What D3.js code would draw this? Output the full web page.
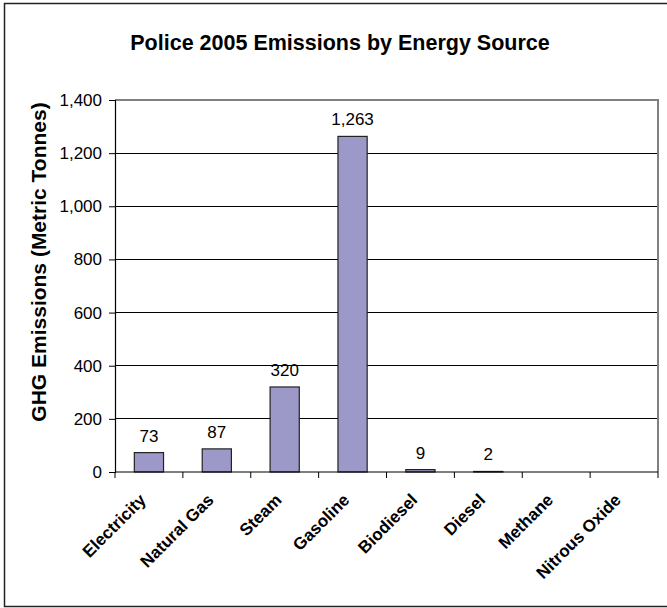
<!DOCTYPE html>
<html>
<head>
<meta charset="utf-8">
<script src="https://cdn.jsdelivr.net/npm/d3@7"></script>
<style>
  body { margin: 0; background: #fff; }
  svg { display: block; font-family: Arial, "Liberation Sans", sans-serif; }
</style>
</head>
<body>
<svg id="chart" width="667" height="608"></svg>
<script>
// Energy sources and their 2005 emissions (metric tonnes)
const categories = ["Electricity", "Natural Gas", "Steam", "Gasoline", "Biodiesel", "Diesel", "Methane", "Nitrous Oxide"];
const emissions = [73, 87, 320, 1263, 9, 2, 0, 0];
const valueLabels = ["73", "87", "320", "1,263", "9", "2", "", ""];
const yTicks = [0, 200, 400, 600, 800, 1000, 1200, 1400];

const svg = d3.select("#chart");
const plot = { left: 115, right: 658, top: 100, bottom: 472 };
const FONT = "Arial, 'Liberation Sans', sans-serif";

// outer chart frame (runs past the right edge)
svg.append("rect")
  .attr("x", 4.5).attr("y", 3.5)
  .attr("width", 700).attr("height", 603)
  .attr("fill", "#fff").attr("stroke", "#222").attr("stroke-width", 1.5);

svg.append("text")
  .attr("x", 340).attr("y", 50)
  .attr("text-anchor", "middle")
  .attr("font-size", 21.5).attr("font-weight", "bold")
  .text("Police 2005 Emissions by Energy Source");

const x = d3.scaleBand()
  .domain(categories)
  .range([plot.left, plot.right])
  .paddingInner(0.57).paddingOuter(0.285);

const xOuter = d3.scaleBand().domain(categories).range([plot.left, plot.right]);

const y = d3.scaleLinear().domain([0, 1400]).range([plot.bottom, plot.top]);

// gridlines
svg.append("g").selectAll("line")
  .data(yTicks.filter(t => t > 0 && t < 1400))
  .join("line")
  .attr("x1", plot.left).attr("x2", plot.right)
  .attr("y1", d => y(d)).attr("y2", d => y(d))
  .attr("stroke", "#000").attr("stroke-width", 1)
  .attr("shape-rendering", "crispEdges");

// plot border top & right
svg.append("path")
  .attr("d", `M${plot.left},${plot.top}H${plot.right}V${plot.bottom}`)
  .attr("fill", "none").attr("stroke", "#808080").attr("stroke-width", 2);

// bars
svg.append("g").selectAll("rect")
  .data(categories.map((c, i) => ({ c, v: emissions[i] })).filter(d => d.v > 0))
  .join("rect")
  .attr("x", d => x(d.c))
  .attr("width", x.bandwidth())
  .attr("y", d => y(d.v))
  .attr("height", d => y(0) - y(d.v))
  .attr("fill", "#9c99c9")
  .attr("stroke", "#222").attr("stroke-width", 1.2);

// value labels
svg.append("g").selectAll("text")
  .data(categories.map((c, i) => ({ c, v: emissions[i], t: valueLabels[i] })).filter(d => d.t !== ""))
  .join("text")
  .attr("x", d => x(d.c) + x.bandwidth() / 2)
  .attr("y", d => y(d.v) - 11)
  .attr("text-anchor", "middle")
  .attr("font-size", 17)
  .text(d => d.t);

// y axis
const yAxis = d3.axisLeft(y)
  .tickValues(yTicks)
  .tickSize(6)
  .tickPadding(7)
  .tickFormat(d3.format(","));
const gy = svg.append("g").attr("transform", `translate(${plot.left},0)`).call(yAxis);
gy.select(".domain").attr("stroke", "#000").attr("stroke-width", 1.2);
gy.selectAll(".tick line").attr("stroke", "#000");
gy.selectAll(".tick text").attr("font-size", 17).attr("font-family", FONT).attr("fill", "#000");

// x axis with ticks between categories
const gx = svg.append("g");
gx.append("line")
  .attr("x1", plot.left).attr("x2", plot.right)
  .attr("y1", plot.bottom).attr("y2", plot.bottom)
  .attr("stroke", "#000").attr("stroke-width", 1.2);
gx.selectAll("line.tk")
  .data(categories.map(c => xOuter(c)).concat([plot.right]))
  .join("line").attr("class", "tk")
  .attr("x1", d => d).attr("x2", d => d)
  .attr("y1", plot.bottom).attr("y2", plot.bottom + 6)
  .attr("stroke", "#000");

svg.append("g").selectAll("text")
  .data(categories)
  .join("text")
  .attr("transform", d => `translate(${xOuter(d) + xOuter.bandwidth() / 2 - 2},${plot.bottom + 29}) rotate(-45)`)
  .attr("text-anchor", "end")
  .attr("font-size", 17).attr("font-weight", "bold")
  .text(d => d);

// y axis title
svg.append("text")
  .attr("transform", `translate(46,262) rotate(-90)`)
  .attr("text-anchor", "middle")
  .attr("font-size", 21).attr("font-weight", "bold")
  .text("GHG Emissions (Metric Tonnes)");
</script>
</body>
</html>
